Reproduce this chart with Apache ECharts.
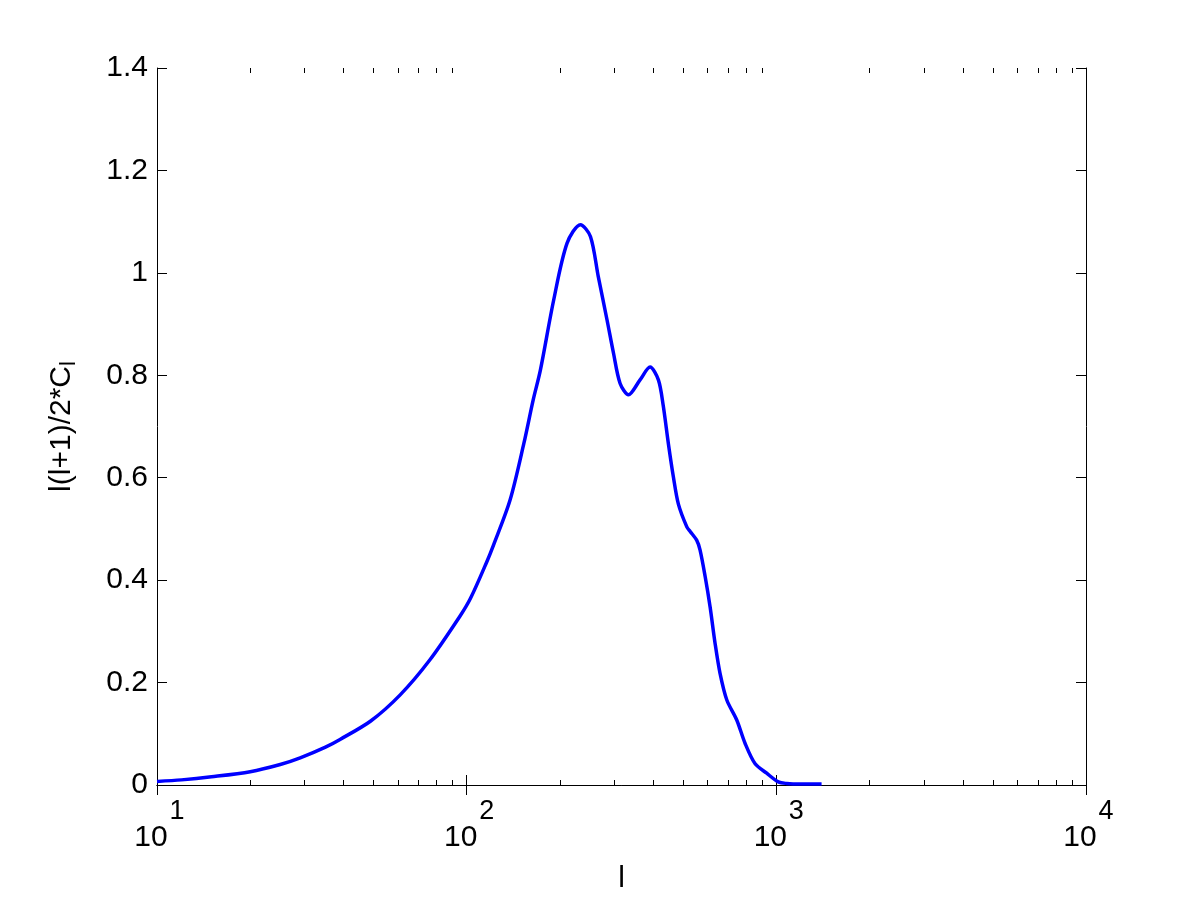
<!DOCTYPE html>
<html>
<head>
<meta charset="utf-8">
<script src="https://cdn.jsdelivr.net/npm/echarts@6/dist/echarts.min.js"></script>
<style>
  html, body { margin: 0; padding: 0; background: #fff; }
  #chart { width: 1200px; height: 901px; }
</style>
</head>
<body>
<div id="chart"></div>
<script>
// multipole l and the power l(l+1)/2*C_l
var ell = [10, 12, 15, 20, 25, 29, 35, 39, 49, 61, 76, 95, 103, 116, 122, 138, 153, 164, 173,
  191, 211, 233, 251, 266, 284, 298, 313, 333, 363, 391, 416, 431, 448, 465, 483, 514, 527,
  553, 567, 589, 611, 634, 658, 692, 745, 793, 853, 931, 1015, 1080, 1200, 1400];
var power = [0.007, 0.010, 0.016, 0.026, 0.040, 0.053, 0.074, 0.089, 0.125, 0.176, 0.244, 0.329,
  0.365, 0.435, 0.468, 0.556, 0.667, 0.752, 0.81, 0.947, 1.058, 1.094, 1.071, 0.993, 0.908,
  0.843, 0.784, 0.762, 0.791, 0.816, 0.791, 0.742, 0.667, 0.602, 0.548, 0.504, 0.495, 0.478,
  0.459, 0.407, 0.348, 0.277, 0.218, 0.166, 0.127, 0.081, 0.042, 0.023, 0.006, 0.003, 0.002, 0.002];

// minor ticks of the log axis (2..9 in every decade)
var minorTicks = [];
[10, 100, 1000].forEach(function (d) {
  for (var k = 2; k <= 9; k++) minorTicks.push(d * k);
});

var FONT = 'Liberation Sans';
var chart = echarts.init(document.getElementById('chart'), null, {renderer: 'canvas'});

var logAxisBase = {
  type: 'log',
  logBase: 10,
  min: 10,
  max: 10000,
  gridIndex: 0,
  splitLine: {show: false}
};

var option = {
  backgroundColor: '#ffffff',
  animation: false,
  grid: {left: 157, right: 114, top: 68, bottom: 116},
  xAxis: [
    // main bottom axis with labels
    Object.assign({}, logAxisBase, {
      position: 'bottom',
      name: 'l',
      nameLocation: 'middle',
      nameGap: 79,
      nameTextStyle: {fontFamily: FONT, fontSize: 30, color: '#000'},
      axisLine: {show: true, lineStyle: {color: '#000', width: 1}},
      axisTick: {show: true, inside: true, length: 10, lineStyle: {color: '#000'}},
      axisLabel: {
        show: true,
        margin: 14,
        showMinLabel: true,
        showMaxLabel: true,
        formatter: function (v) {
          var e = Math.round(Math.log(v) / Math.LN10);
          // exponent on its own line above, pushed right of the base
          return '{s|' + e + '}\n{b|10}';
        },
        rich: {
          b: {fontFamily: FONT, fontSize: 30, color: '#000', lineHeight: 26, padding: [0, 12, 0, 0]},
          s: {fontFamily: FONT, fontSize: 27, color: '#000', lineHeight: 26, padding: [0, 0, 0, 40]}
        }
      }
    }),
    // top mirror axis
    Object.assign({}, logAxisBase, {
      position: 'top',
      axisLine: {show: true, lineStyle: {color: '#000', width: 1}},
      axisTick: {show: true, inside: true, length: 10, lineStyle: {color: '#000'}},
      axisLabel: {show: false}
    }),
    // minor ticks bottom
    Object.assign({}, logAxisBase, {
      position: 'bottom',
      axisLine: {show: false},
      axisTick: {show: true, inside: true, length: 5, customValues: minorTicks, lineStyle: {color: '#000'}},
      axisLabel: {show: false}
    }),
    // minor ticks top
    Object.assign({}, logAxisBase, {
      position: 'top',
      axisLine: {show: false},
      axisTick: {show: true, inside: true, length: 5, customValues: minorTicks, lineStyle: {color: '#000'}},
      axisLabel: {show: false}
    })
  ],
  yAxis: [
    {
      type: 'value',
      min: 0,
      max: 1.4,
      interval: 0.2,
      position: 'left',
      name: 'l(l+1)/2*C{sub|l}',
      nameLocation: 'middle',
      nameGap: 77,
      nameTextStyle: {
        fontFamily: FONT, fontSize: 30, color: '#000',
        rich: {
          sub: {fontFamily: FONT, fontSize: 22, color: '#000', verticalAlign: 'bottom', padding: [14, 0, 0, 0]}
        }
      },
      splitLine: {show: false},
      axisLine: {show: true, lineStyle: {color: '#000', width: 1}},
      axisTick: {show: true, inside: true, length: 10, lineStyle: {color: '#000'}},
      axisLabel: {
        margin: 9,
        fontFamily: FONT,
        fontSize: 30,
        color: '#000'
      }
    },
    {
      type: 'value',
      min: 0,
      max: 1.4,
      interval: 0.2,
      position: 'right',
      splitLine: {show: false},
      axisLine: {show: true, lineStyle: {color: '#000', width: 1}},
      axisTick: {show: true, inside: true, length: 10, lineStyle: {color: '#000'}},
      axisLabel: {show: false}
    }
  ],
  series: [
    {
      type: 'line',
      xAxisIndex: 0,
      yAxisIndex: 0,
      data: ell.map(function (l, i) { return [l, power[i]]; }),
      showSymbol: false,
      smooth: 0.3,
      lineStyle: {color: '#0000ff', width: 3.5},
      itemStyle: {color: '#0000ff'}
    }
  ]
};

chart.setOption(option);
</script>
</body>
</html>
